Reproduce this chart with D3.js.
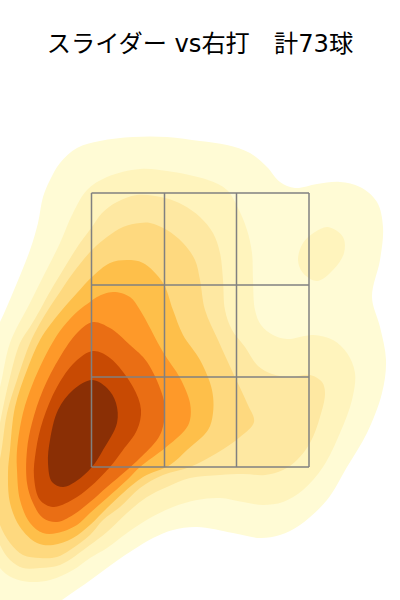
<!DOCTYPE html>
<html>
<head>
<meta charset="utf-8">
<script src="https://cdn.jsdelivr.net/npm/d3@7"></script>
<style>
  html, body { margin: 0; padding: 0; background: white; }
  svg { display: block; }
</style>
</head>
<body>
<svg></svg>
<script>
let width = 400;
let height = 600;

let titleText = "スライダー vs右打\u3000計73球";

// zone lines
let zoneX = [91.5, 164.5, 236.5, 309];
let zoneY = [193, 285, 377, 467];

// density bands, lightest first, each outline as [x, y]
let band1 = [[30,250],[38,223],[43,197],[50,180],[60,163],[77,148],[100,141],[133,137],[167,137],[200,141],[227,145],[250,153],[267,167],[280,182],[295,188],[317,184],[340,182],[360,187],[377,202],[383,227],[380,260],[372,297],[380,327],[386,360],[382,393],[367,433],[347,467],[327,500],[300,525],[280,535],[260,538],[233,533],[197,527],[173,530],[153,538],[133,550],[118,560],[92,579],[62,600],[25,625],[-30,640],[-40,500],[-20,360],[0,322],[14,290]];
let band1b = [[328,227],[343,237],[344,253],[333,270],[317,281],[303,273],[298,260],[303,243],[315,232]];
let band2 = [[30,303],[43,277],[60,243],[73,213],[87,190],[107,177],[140,169],[167,171],[208,180],[227,190],[238,208],[247,230],[252,253],[253,280],[255,310],[261,325],[273,335],[287,339],[313,335],[333,340],[347,353],[355,373],[352,400],[340,433],[323,467],[303,490],[283,502],[263,505],[243,502],[220,498],[197,500],[173,507],[150,518],[127,533],[107,548],[90,558],[73,570],[50,580],[30,582],[13,578],[0,568],[-12,540],[-15,470],[-10,420],[0,387],[10,343]];
let band3 = [[40,310],[47,297],[63,270],[80,243],[92,227],[102,213],[117,202],[137,195],[165,198],[183,205],[200,217],[213,233],[220,253],[223,280],[225,310],[232,330],[245,347],[258,366],[272,374],[290,377],[310,375],[322,382],[325,393],[320,417],[310,443],[297,460],[283,470],[265,475],[243,474],[220,475],[190,478],[167,487],[147,497],[127,513],[107,532],[90,545],[60,565],[40,568],[23,568],[10,560],[0,545],[-8,520],[-8,470],[0,423],[10,377],[20,343],[30,327]];
let band4 = [[48,310],[60,292],[73,273],[92,250],[107,237],[123,227],[140,223],[150,223],[167,230],[183,243],[195,260],[200,280],[205,310],[218,340],[233,373],[247,403],[254,422],[240,437],[217,453],[190,467],[163,475],[140,488],[120,507],[103,520],[90,535],[70,550],[57,557],[40,558],[23,555],[10,543],[0,525],[-3,510],[-3,480],[2,447],[7,413],[17,380],[30,343],[39,325]];
let band5 = [[62,310],[77,293],[92,277],[110,263],[127,260],[143,263],[163,283],[173,310],[183,335],[200,360],[212,390],[213,413],[208,430],[187,450],[170,465],[143,477],[123,493],[107,508],[90,525],[73,538],[53,545],[37,543],[20,527],[10,503],[8,473],[10,450],[15,407],[27,370],[40,340],[50,325]];
let band6 = [[78,311],[90,302],[97,297],[113,292],[130,297],[140,310],[163,352],[180,378],[190,403],[190,420],[185,430],[165,448],[140,467],[127,480],[107,498],[90,513],[77,525],[57,533],[43,533],[30,523],[20,500],[17,470],[17,450],[23,413],[33,383],[50,347],[63,327]];
let band7 = [[78,332],[93,322],[110,328],[130,345],[147,362],[163,397],[165,413],[162,430],[157,440],[140,458],[127,470],[107,487],[90,502],[73,515],[57,522],[43,518],[33,503],[27,483],[27,450],[32,423],[43,390],[60,357]];
let band8 = [[75,362],[93,351],[110,358],[133,387],[141,410],[137,430],[123,450],[110,467],[90,487],[72,500],[53,507],[40,500],[34,477],[36,450],[43,420],[57,387]];
let band9 = [[73,390],[92,380],[107,388],[116,403],[117,423],[103,450],[92,467],[75,482],[63,487],[52,482],[48,463],[50,440],[58,410]];

let bands = [
  {outline: band1, color: "#FFFBD5"},
  {outline: band2, color: "#FFF4BD"},
  {outline: band1b, color: "#FFF4BD"},
  {outline: band3, color: "#FEE8A2"},
  {outline: band4, color: "#FED97F"},
  {outline: band5, color: "#FEBF4A"},
  {outline: band6, color: "#FE9929"},
  {outline: band7, color: "#EA6E14"},
  {outline: band8, color: "#C84A03"},
  {outline: band9, color: "#8A2F05"}
];

let svg = d3.select("svg")
            .attr("width", width)
            .attr("height", height)
            .style("background-color", "white");

let scaleX = d3.scaleLinear().domain([0, 400]).range([0, width]);
let scaleY = d3.scaleLinear().domain([0, 600]).range([0, height]);

let line = d3.line()
             .x(d => scaleX(d[0]))
             .y(d => scaleY(d[1]))
             .curve(d3.curveCatmullRomClosed.alpha(0.5));

svg.append("g")
   .selectAll("path")
   .data(bands)
   .enter()
   .append("path")
   .attr("d", d => line(d.outline))
   .attr("fill", d => d.color);

// strike zone
let grid = svg.append("g")
              .attr("stroke", "#808080")
              .attr("stroke-width", 1.5)
              .attr("fill", "none");

grid.selectAll(".v")
    .data(zoneX)
    .enter()
    .append("line")
    .attr("class", "v")
    .attr("x1", d => scaleX(d))
    .attr("x2", d => scaleX(d))
    .attr("y1", scaleY(zoneY[0]))
    .attr("y2", scaleY(zoneY[3]));

grid.selectAll(".h")
    .data(zoneY)
    .enter()
    .append("line")
    .attr("class", "h")
    .attr("x1", scaleX(zoneX[0]))
    .attr("x2", scaleX(zoneX[3]))
    .attr("y1", d => scaleY(d))
    .attr("y2", d => scaleY(d));

svg.append("text")
   .attr("x", 200)
   .attr("y", 52)
   .attr("text-anchor", "middle")
   .style("font-family", "'DejaVu Sans', 'Noto Sans CJK JP', sans-serif")
   .style("font-size", "24.2px")
   .attr("fill", "black")
   .text(titleText);
</script>
</body>
</html>
